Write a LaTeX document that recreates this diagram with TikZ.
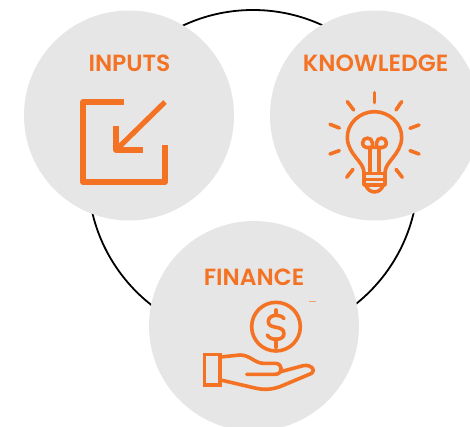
\documentclass[tikz,border=0pt]{standalone}
\usepackage{fontspec}
\setmainfont{Poppins}
\definecolor{orng}{HTML}{F47224}
\definecolor{disc}{HTML}{E6E6E6}
\tikzset{
  discnode/.style={circle,fill=disc,minimum size=210pt,inner sep=0pt},
  lbl/.style={text=orng,font=\fontsize{23.4}{24}\selectfont\fontspec{Poppins SemiBold},inner sep=0pt,anchor=center},
  ico/.style={draw=orng,line width=3.6pt,line cap=round,line join=round},
  icob/.style={draw=orng,line width=5.2pt,line join=round}
}
\begin{document}
\begin{tikzpicture}[x=1pt,y=-1pt]
\useasboundingbox (0,0) rectangle (470,427);
\fill[white] (0,0) rectangle (470,427);
\coordinate (ringc) at (253,175);
\node[circle,draw=black,line width=1.8pt,minimum size=330pt,inner sep=0pt] (ring) at (ringc) {};
\node[discnode] (inputs) at (129,115.5) {};
\node[discnode] (knowledge) at (375,115.5) {};
\node[discnode] (finance) at (254,326) {};
\node[lbl] (tinputs) at (129.5,63.5) {INPUTS};
\node[lbl] (tknow) at (375.5,63) {KNOWLEDGE};
\node[lbl] (tfin) at (254,277.5) {FINANCE};
% inputs icon
\draw[icob] (124,102) -- (83,102) -- (83,182) -- (165,182) -- (165,145);
\draw[icob] (165,102) -- (116,150);
\draw[icob] (116,126) -- (116,150) -- (143,150);
% bulb icon
\begin{scope}[shift={(295,40)},x=0.3333pt,y=-0.3333pt]
\foreach \a/\b/\c/\d in {238/158/238/188,157/185/176/210,320/185/303/210,105/253/133/264,372/255/345/265,105/342/133/332,372/342/345/332,155/412/174/388,322/412/303/388}
  \draw[ico] (\a,\b) -- (\c,\d);
\draw[ico] (207,398) .. controls (207,365) and (160,345) .. (157,295)
  .. controls (155,250) and (195,215) .. (238,215)
  .. controls (282,215) and (322,250) .. (320,295)
  .. controls (317,345) and (270,365) .. (270,398);
\draw[ico] (225,395) -- (225,322) .. controls (225,322) and (203,328) .. (203,308)
  .. controls (203,290) and (232,290) .. (232,308) -- (232,322) -- (245,322) -- (245,308)
  .. controls (245,290) and (274,290) .. (274,308) .. controls (274,328) and (252,322) .. (252,322) -- (252,395);
\draw[ico] (207,400) -- (270,400) (207,418) -- (270,418) (207,400) -- (207,435) -- (270,435) -- (270,400);
\draw[ico] (213,437) .. controls (222,462) and (255,462) .. (264,437);
\end{scope}
% hand icon
\begin{scope}[shift={(190,255)},x=0.3333pt,y=-0.3333pt]
\draw[ico] (258,215) circle[radius=73];
\draw[ico] (282,191) .. controls (275,178) and (235,175) .. (235,200)
  .. controls (235,225) and (282,208) .. (282,236)
  .. controls (282,258) and (240,258) .. (232,240);
\draw[ico] (258,165) -- (258,180) (258,252) -- (258,277);
\draw[ico,line join=miter] (44,299) rectangle (90,390);
\draw[ico] (92,306) -- (150,300) .. controls (180,300) and (195,325) .. (220,325)
  -- (255,325) .. controls (280,325) and (280,358) .. (255,358) -- (170,358);
\draw[ico] (272,350) -- (340,332) .. controls (365,328) and (378,345) .. (365,355)
  -- (270,395) .. controls (240,405) and (220,405) .. (190,398) -- (92,375);
\end{scope}
\draw[orng!60!disc,line width=0.8pt] (309,301) -- (316,301);
\end{tikzpicture}
\end{document}
